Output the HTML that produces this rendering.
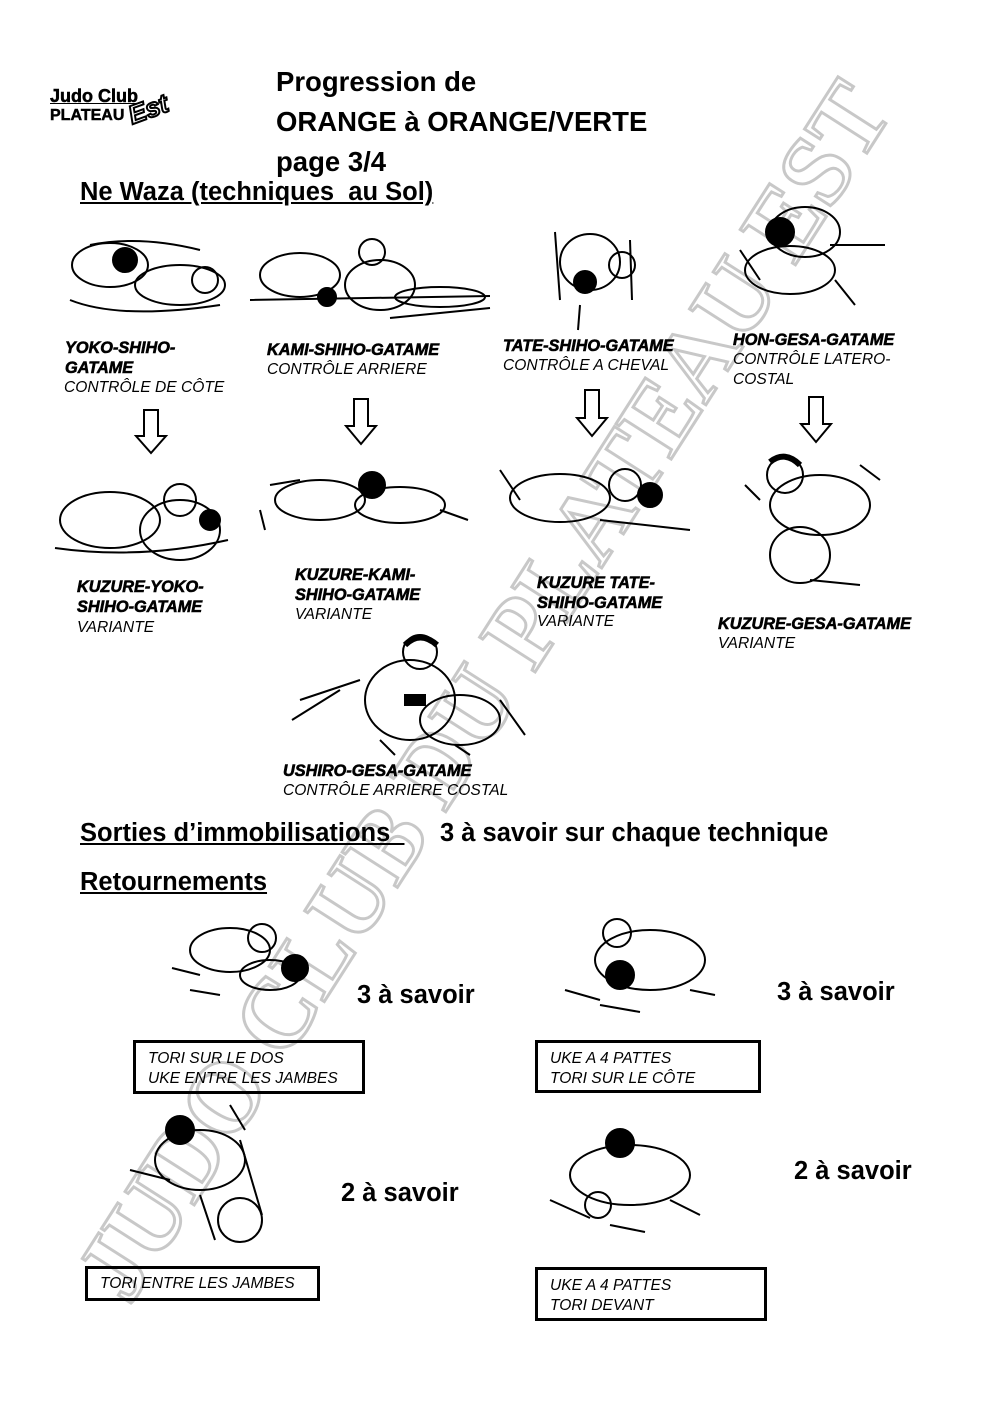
<!DOCTYPE html>
<html><head><meta charset="utf-8"><style>
html,body{margin:0;padding:0;background:#fff}
body{width:992px;height:1402px;position:relative;overflow:hidden;font-family:"Liberation Sans",sans-serif}
.t{position:absolute;white-space:nowrap;line-height:1}
.h{font-weight:bold;font-size:27.5px;color:#000}
.s{font-size:25.5px}
.u{text-decoration:underline}
.b{font-weight:900;font-style:italic;font-size:16.3px;-webkit-text-stroke:0.6px #000}
.n{font-style:italic;font-size:15.6px}
.box{position:absolute;border:3px solid #000;box-sizing:border-box;font-style:italic;font-size:15.6px;padding:6px 0 0 12px;line-height:20px}
svg{position:absolute;left:0;top:0}
</style></head><body>
<svg width="992" height="1402">
<g transform="translate(482,690) rotate(-57.4)">
<text x="0" y="35" text-anchor="middle" font-family="Liberation Serif" font-weight="bold" font-size="100" fill="#fff" stroke="#c8c8c8" stroke-width="3" textLength="1420" lengthAdjust="spacingAndGlyphs">JUDO CLUB DU PLATEAU EST</text>
</g>
<g fill="none" stroke="#000" stroke-width="2">
<g><ellipse cx="110" cy="265" rx="38" ry="22"/><ellipse cx="180" cy="285" rx="45" ry="20"/><circle cx="125" cy="260" r="12" fill="#000"/><circle cx="205" cy="280" r="13"/><path d="M70 300 Q120 320 220 305 M90 245 Q140 235 200 250"/></g>
<g><ellipse cx="300" cy="275" rx="40" ry="22"/><circle cx="372" cy="252" r="13"/><ellipse cx="380" cy="285" rx="35" ry="25"/><ellipse cx="440" cy="297" rx="45" ry="10"/><circle cx="327" cy="297" r="9" fill="#000"/><path d="M250 300 L490 296 M390 318 L490 308"/></g>
<g><ellipse cx="590" cy="262" rx="30" ry="28"/><circle cx="585" cy="282" r="11" fill="#000"/><circle cx="622" cy="265" r="13"/><path d="M555 232 L560 300 M580 305 L578 330 M630 240 L632 300"/></g>
<g><circle cx="780" cy="232" r="14" fill="#000"/><ellipse cx="805" cy="232" rx="35" ry="25"/><ellipse cx="790" cy="270" rx="45" ry="24"/><path d="M740 250 L760 280 M830 245 L885 245 M835 280 L855 305"/></g>
<g><ellipse cx="110" cy="520" rx="50" ry="28"/><circle cx="180" cy="500" r="16"/><ellipse cx="180" cy="530" rx="40" ry="30"/><circle cx="210" cy="520" r="10" fill="#000"/><path d="M55 548 Q140 560 228 540"/></g>
<g><ellipse cx="320" cy="500" rx="45" ry="20"/><circle cx="372" cy="485" r="13" fill="#000"/><ellipse cx="400" cy="505" rx="45" ry="18"/><path d="M260 510 L265 530 M440 510 L468 520 M270 485 L300 480"/></g>
<g><ellipse cx="560" cy="498" rx="50" ry="24"/><circle cx="625" cy="485" r="16"/><circle cx="650" cy="495" r="12" fill="#000"/><path d="M500 470 L520 500 M600 520 L690 530"/></g>
<g><circle cx="785" cy="475" r="18"/><path d="M770 462 Q785 450 800 465" stroke-width="6"/><ellipse cx="820" cy="505" rx="50" ry="30"/><ellipse cx="800" cy="555" rx="30" ry="28"/><path d="M745 485 L760 500 M860 465 L880 480 M810 580 L860 585"/></g>
<g><circle cx="420" cy="652" r="17"/><path d="M405 645 Q420 630 437 645" stroke-width="6"/><ellipse cx="410" cy="700" rx="45" ry="40"/><ellipse cx="460" cy="720" rx="40" ry="25"/><path d="M292 720 L340 690 M300 700 L360 680 M380 740 L395 755 M500 700 L525 735 M455 745 L470 755"/><rect x="405" y="695" width="20" height="10" fill="#000"/></g>
<g><ellipse cx="230" cy="950" rx="40" ry="22"/><circle cx="262" cy="938" r="14"/><circle cx="295" cy="968" r="13" fill="#000"/><ellipse cx="270" cy="975" rx="30" ry="15"/><path d="M172 968 L200 975 M190 990 L220 995"/></g>
<g><circle cx="617" cy="933" r="14"/><ellipse cx="650" cy="960" rx="55" ry="30"/><circle cx="620" cy="975" r="14" fill="#000"/><path d="M565 990 L600 1000 M690 990 L715 995 M600 1005 L640 1012"/></g>
<g><circle cx="180" cy="1130" r="14" fill="#000"/><ellipse cx="200" cy="1160" rx="45" ry="30"/><circle cx="240" cy="1220" r="22"/><path d="M130 1170 L170 1180 M230 1105 L245 1130 M240 1140 L262 1215 M200 1195 L215 1240"/></g>
<g><circle cx="620" cy="1143" r="14" fill="#000"/><ellipse cx="630" cy="1175" rx="60" ry="30"/><circle cx="598" cy="1205" r="13"/><path d="M550 1200 L590 1218 M670 1200 L700 1215 M610 1225 L645 1232"/></g>
<polygon points="144,410 158,410 158,436 166,436 151,453 136,436 144,436"/>
<polygon points="354,399 368,399 368,426 376,426 361,444 346,426 354,426"/>
<polygon points="585,390 599,390 599,418 607,418 592,436 577,418 585,418"/>
<polygon points="809,397 823,397 823,424 831,424 816,442 801,424 809,424"/>
</g>
</svg>

<div class="t" style="left:50px;top:87px;font-weight:900;font-size:18px;-webkit-text-stroke:.5px #000;text-decoration:underline">Judo Club</div>
<div class="t" style="left:50px;top:108px;font-weight:900;font-size:16px;-webkit-text-stroke:.5px #000">PLATEAU</div>
<div class="t" style="left:128px;top:96px;font-weight:900;font-size:26px;font-style:italic;color:#fff;-webkit-text-stroke:2px #000;transform:rotate(-20deg)">Est</div>

<div class="t h" style="left:276px;top:68px">Progression de</div>
<div class="t h" style="left:276px;top:108px">ORANGE à ORANGE/VERTE</div>
<div class="t h" style="left:276px;top:148px">page 3/4</div>
<div class="t h u s" style="left:80px;top:180px">Ne Waza (techniques&nbsp; au Sol)</div>

<div class="t b" style="left:65px;top:340px">YOKO-SHIHO-</div>
<div class="t b" style="left:65px;top:360px">GATAME</div>
<div class="t n" style="left:64px;top:380px">CONTRÔLE DE CÔTE</div>
<div class="t b" style="left:267px;top:342px">KAMI-SHIHO-GATAME</div>
<div class="t n" style="left:267px;top:362px">CONTRÔLE ARRIERE</div>
<div class="t b" style="left:503px;top:338px">TATE-SHIHO-GATAME</div>
<div class="t n" style="left:503px;top:358px">CONTRÔLE A CHEVAL</div>
<div class="t b" style="left:733px;top:332px">HON-GESA-GATAME</div>
<div class="t n" style="left:733px;top:352px">CONTRÔLE LATERO-</div>
<div class="t n" style="left:733px;top:372px">COSTAL</div>

<div class="t b" style="left:77px;top:579px">KUZURE-YOKO-</div>
<div class="t b" style="left:77px;top:599px">SHIHO-GATAME</div>
<div class="t n" style="left:77px;top:620px">VARIANTE</div>
<div class="t b" style="left:295px;top:567px">KUZURE-KAMI-</div>
<div class="t b" style="left:295px;top:587px">SHIHO-GATAME</div>
<div class="t n" style="left:295px;top:607px">VARIANTE</div>
<div class="t b" style="left:537px;top:575px">KUZURE TATE-</div>
<div class="t b" style="left:537px;top:595px">SHIHO-GATAME</div>
<div class="t n" style="left:537px;top:614px">VARIANTE</div>
<div class="t b" style="left:718px;top:616px">KUZURE-GESA-GATAME</div>
<div class="t n" style="left:718px;top:636px">VARIANTE</div>
<div class="t b" style="left:283px;top:763px">USHIRO-GESA-GATAME</div>
<div class="t n" style="left:283px;top:783px">CONTRÔLE ARRIERE COSTAL</div>

<div class="t h u s" style="left:80px;top:821px">Sorties d’immobilisations&nbsp;&nbsp;</div>
<div class="t h s" style="left:440px;top:821px">3 à savoir sur chaque technique</div>
<div class="t h u s" style="left:80px;top:870px">Retournements</div>

<div class="t h s" style="left:357px;top:983px">3 à savoir</div>
<div class="t h s" style="left:777px;top:980px">3 à savoir</div>
<div class="t h s" style="left:341px;top:1181px">2 à savoir</div>
<div class="t h s" style="left:794px;top:1159px">2 à savoir</div>

<div class="box" style="left:133px;top:1040px;width:232px;height:54px">TORI SUR LE DOS<br>UKE ENTRE LES JAMBES</div>
<div class="box" style="left:535px;top:1040px;width:226px;height:53px">UKE A 4 PATTES<br>TORI SUR LE CÔTE</div>
<div class="box" style="left:85px;top:1266px;width:235px;height:35px;padding-top:5px">TORI ENTRE LES JAMBES</div>
<div class="box" style="left:535px;top:1267px;width:232px;height:54px">UKE A 4 PATTES<br>TORI DEVANT</div>
</body></html>
